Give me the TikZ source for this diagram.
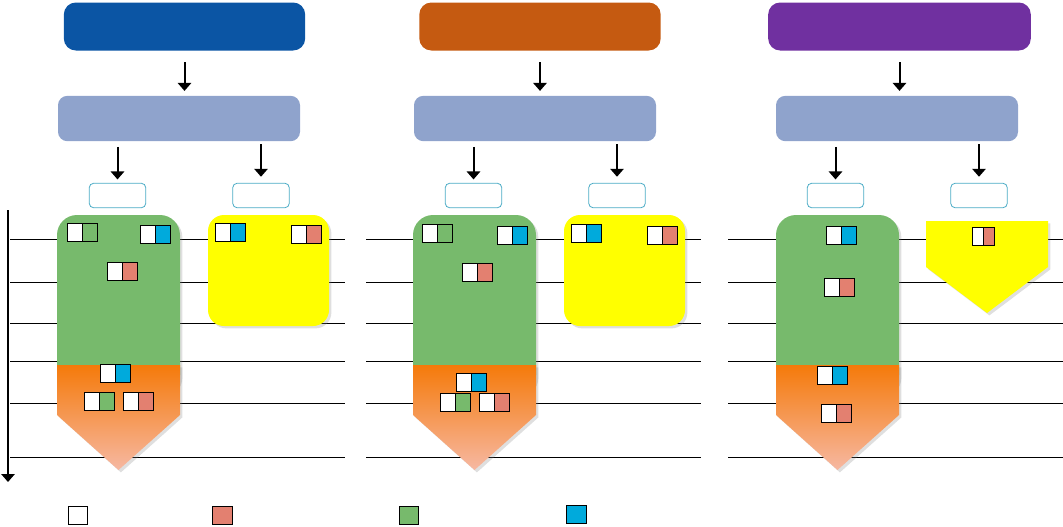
\documentclass[tikz,border=0pt]{standalone}
\usepackage{tikz}
\usetikzlibrary{positioning, arrows.meta, shadows}
\definecolor{hdrblue}{RGB}{11,85,164}
\definecolor{hdrorange}{RGB}{197,90,17}
\definecolor{hdrpurple}{RGB}{112,48,160}
\definecolor{lavender}{RGB}{143,163,204}
\definecolor{tagline}{RGB}{75,172,198}
\definecolor{colgreen}{RGB}{119,186,108}
\definecolor{orgtop}{RGB}{245,122,10}
\definecolor{orgbot}{RGB}{246,184,162}
\definecolor{salmon}{RGB}{227,128,112}
\definecolor{skyblue}{RGB}{0,170,220}
\definecolor{idleyellow}{RGB}{255,255,0}
\tikzset{>={Triangle[width=10pt,length=6pt]}}
\tikzset{
  header/.style={rounded corners=9pt, minimum width=181pt, minimum height=36pt, inner sep=0pt},
  stage/.style={fill=lavender, rounded corners=7pt, minimum width=181.5pt, minimum height=34pt, inner sep=0pt},
  tag/.style={draw=tagline, line width=0.6pt, fill=white, rounded corners=3.5pt, minimum width=42.5pt, minimum height=18.5pt, inner sep=0pt},
  sq/.style={draw=black, line width=0.7pt, fill=white, minimum width=11.6pt, minimum height=14pt, inner sep=0pt, outer sep=0pt},
  legsq/.style={draw=black, line width=0.6pt, minimum width=14.5pt, minimum height=14pt, inner sep=0pt},
  flow/.style={->, line width=1.5pt},
  slot/.style={line width=0.75pt},
  soft/.style={drop shadow={opacity=0.25, shadow xshift=1.8pt, shadow yshift=-1.8pt}},
}
\newcommand{\twosq}[4]{%
  \node[sq, anchor=north west] (#1w) at (#2,#3) {};
  \node[sq, fill=#4, right=0pt of #1w] (#1c) {};
}

\begin{document}
\begin{tikzpicture}[x=0.75pt, y=-0.75pt]
	\useasboundingbox (0,0) rectangle (1063,526);

	% headers, stages and tags
	\foreach \dx/\hx/\hc/\hw/\n in {0/184.5/hdrblue/181/a, 356/540/hdrorange/181/b, 718/899.5/hdrpurple/197/c} {
		\node[header, fill=\hc, minimum width=\hw pt] (hdr\n) at (\hx,26.5) {};
		\node[stage] (stg\n) at (179+\dx,118.5) {};
		\node[tag] (tagL\n) at (117.5+\dx,195.5) {};
		\node[tag] (tagR\n) at (261+\dx,195.5) {};
		\draw[flow, shorten <=8.5pt, shorten >=3.5pt] (hdr\n.south) -- (hdr\n.south |- stg\n.north);
		\draw[flow, shorten <=4pt, shorten >=2.5pt] (stg\n.south -| tagL\n.north) -- (tagL\n.north);
		\draw[flow, shorten <=2pt, shorten >=4.5pt] (stg\n.south -| tagR\n.north) -- (tagR\n.north);
	}

	% time axis
	\coordinate (tstart) at (8,210);
	\coordinate (tend) at (8,482);
	\draw[->, line width=1.5pt] (tstart) -- (tend);

	% time slots
	\foreach \y in {239,282,323,361,403,457} {
		\draw[slot] (10,\y) -- (345,\y);
		\draw[slot] (366,\y) -- (701,\y);
		\draw[slot] (728,\y) -- (1063,\y);
	}

	% columns
	\foreach \dx in {0,356,719} {
		\fill[colgreen, soft, rounded corners=15pt] (57+\dx,215) rectangle (180+\dx,395);
		\path[soft, top color=orgtop, bottom color=orgbot] (57+\dx,365) -- (180+\dx,365) -- (180+\dx,415) -- (118.5+\dx,470) -- (57+\dx,415) -- cycle;
	}
	\foreach \dx in {0,356} {
		\fill[idleyellow, soft, rounded corners=12pt] (208+\dx,215) rectangle (329+\dx,326);
	}
	\fill[idleyellow, soft] (926,221) -- (1048,221) -- (1048,267) -- (987,313) -- (926,267) -- cycle;

	% panel a
	\twosq{a1}{67}{223}{colgreen}
	\twosq{a2}{140}{225}{skyblue}
	\twosq{a3}{107}{262}{salmon}
	\twosq{a4}{100}{364}{skyblue}
	\twosq{a5}{84}{392}{colgreen}
	\twosq{a6}{123}{392}{salmon}
	\twosq{a7}{215}{223}{skyblue}
	\twosq{a8}{291}{225}{salmon}
	% panel b
	\twosq{b1}{422}{224}{colgreen}
	\twosq{b2}{497}{226}{skyblue}
	\twosq{b3}{462}{263}{salmon}
	\twosq{b4}{456}{373}{skyblue}
	\twosq{b5}{440}{393}{colgreen}
	\twosq{b6}{479}{393}{salmon}
	\twosq{b7}{571}{224}{skyblue}
	\twosq{b8}{647}{226}{salmon}
	% panel c
	\twosq{c1}{826}{226}{skyblue}
	\twosq{c2}{824}{278}{salmon}
	\twosq{c3}{817}{366}{skyblue}
	\twosq{c4}{821}{404}{salmon}
	\node[sq, minimum width=8.3pt, anchor=north west] (c5w) at (972,227) {};
	\node[sq, minimum width=8.3pt, fill=salmon, right=0pt of c5w] (c5c) {};

	% legend
	\node[legsq, fill=white] (keyW) at (78,515.5) {};
	\node[legsq, fill=salmon] (keyS) at (222.5,515.5) {};
	\node[legsq, fill=colgreen] (keyG) at (409,515.5) {};
	\node[legsq, fill=skyblue] (keyB) at (576.5,514.5) {};
\end{tikzpicture}
\end{document}
